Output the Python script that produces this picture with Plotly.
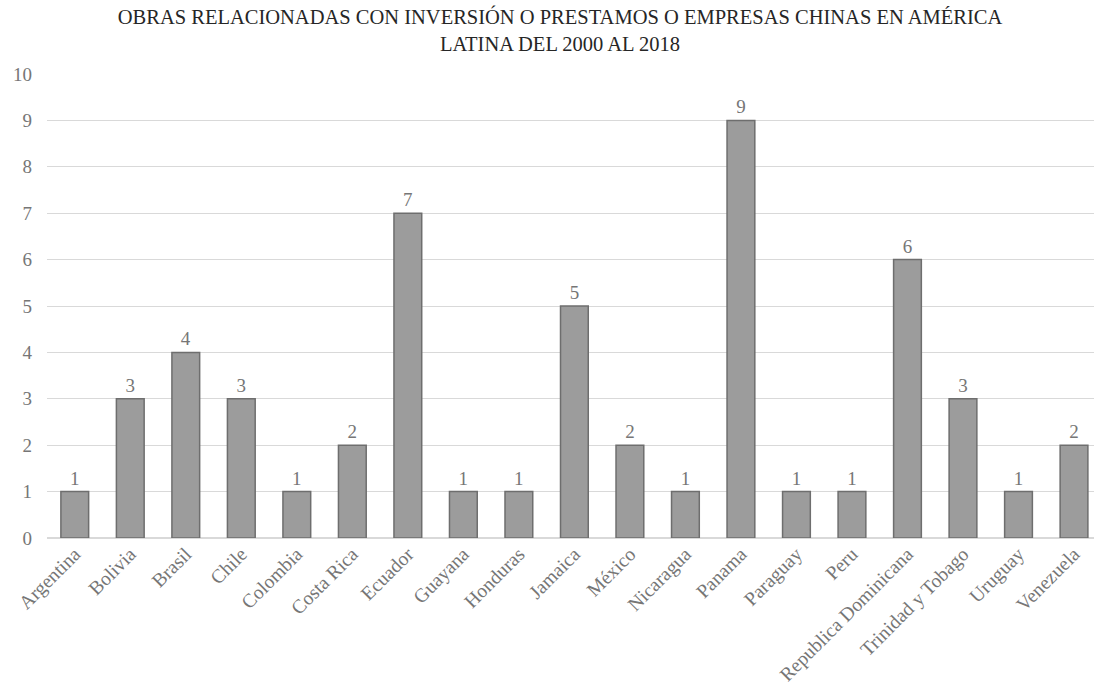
import plotly.graph_objects as go

countries = ["Argentina", "Bolivia", "Brasil", "Chile", "Colombia", "Costa Rica", "Ecuador",
             "Guayana", "Honduras", "Jamaica", "México", "Nicaragua", "Panama", "Paraguay",
             "Peru", "Republica Dominicana", "Trinidad y Tobago", "Uruguay", "Venezuela"]
obras = [1, 3, 4, 3, 1, 2, 7, 1, 1, 5, 2, 1, 9, 1, 1, 6, 3, 1, 2]

title_text = ("OBRAS RELACIONADAS CON INVERSIÓN O PRESTAMOS O EMPRESAS CHINAS EN AMÉRICA<br>"
              "LATINA DEL 2000 AL 2018")

font_family = "Liberation Serif"
W, H = 1094, 691

fig = go.Figure(go.Bar(
    x=countries, y=obras,
    marker=dict(color="#9c9c9c", line=dict(color="#6e6e6e", width=1.5)),
    text=obras, textposition="outside",
    textfont=dict(family=font_family, size=19, color="#767676"),
    cliponaxis=False,
))

fig.update_layout(
    width=W, height=H,
    paper_bgcolor="white", plot_bgcolor="white",
    margin=dict(l=47, r=0, t=74, b=153),
    bargap=0.5,
    showlegend=False,
    title=dict(text=title_text, x=560/W, xref="container", xanchor="center",
               y=1 - 24/H, yref="container", yanchor="middle",
               font=dict(family=font_family, size=20.5, color="#262626")),
    font=dict(family=font_family, size=19, color="#767676"),
)
fig.update_xaxes(range=[-0.5, 18.36], tickangle=-45, showgrid=False, showline=False,
                 ticks="", tickfont=dict(family=font_family, size=19.5, color="#767676"))
fig.update_yaxes(range=[0, 10], dtick=1, showgrid=True, gridcolor="#d9d9d9", gridwidth=1,
                 zeroline=True, zerolinecolor="#d9d9d9", zerolinewidth=1.5,
                 ticks="", ticklabelstandoff=14,
                 tickfont=dict(family=font_family, size=19, color="#767676"))

fig.write_html("out.html",
               config={"displayModeBar": False},
               post_script="document.body.style.margin='0';document.body.style.overflow='hidden';")
